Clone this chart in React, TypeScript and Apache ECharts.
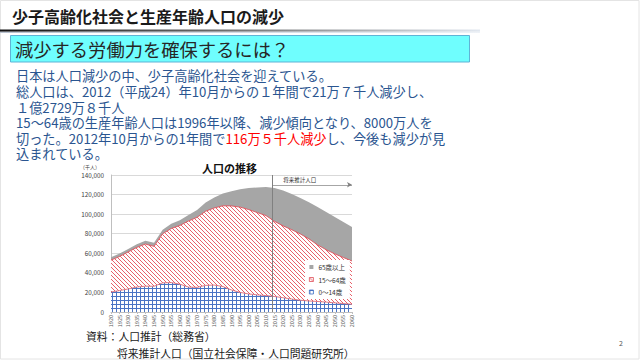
import React, { useEffect, useRef } from 'react';
import * as echarts from 'echarts';

// ---- data (thousand persons) ----
const years = [1920, 1925, 1930, 1935, 1940, 1945, 1950, 1955, 1960, 1965, 1970, 1975, 1980, 1985, 1990, 1995, 2000, 2005, 2010, 2015, 2020, 2025, 2030, 2035, 2040, 2045, 2050, 2055, 2060];
const age0to14 = [20416, 21924, 23579, 25545, 26383, 26300, 29786, 30123, 28434, 25529, 25153, 27221, 27507, 26033, 22486, 20014, 18472, 17521, 16803, 15827, 14568, 13240, 12039, 11287, 10732, 10116, 9387, 8614, 7912];
const age15to64 = [32605, 34792, 37807, 40484, 43000, 40800, 50168, 55167, 60002, 67444, 71566, 75807, 78835, 82506, 85904, 87165, 86220, 84092, 81735, 76818, 73408, 70845, 67730, 63430, 57866, 53531, 50013, 47063, 44183];
const age65plus = [2941, 3021, 3064, 3225, 3454, 3700, 4155, 4786, 5398, 6236, 7393, 8865, 10647, 12468, 14895, 18261, 22005, 25672, 29246, 33952, 36124, 36573, 36849, 37407, 38678, 38564, 37676, 36257, 34642];
const seriesNames = ['0～14歳', '15～64歳', '65歳以上'];
const projectionStartYear = 2013.6;
const projectionArrowValue = 130000;

const bodyLines = [
  '日本は人口減少の中、少子高齢化社会を迎えている。',
  '総人口は、2012（平成24）年10月からの１年間で21万７千人減少し、',
  '１億2729万８千人',
  '15～64歳の生産年齢人口は1996年以降、減少傾向となり、8000万人を',
  '切った。2012年10月からの1年間で{r|116万５千人減少}し、今後も減少が見',
  '込まれている。',
];
const bodyLineY = [75, 91, 107, 122, 138, 153];

const FONT = '"Noto Sans CJK JP", "Noto Sans", sans-serif';

function makeTile(size: number, draw: (ctx: CanvasRenderingContext2D) => void): string {
  const c = document.createElement('canvas');
  c.width = size;
  c.height = size;
  const ctx = c.getContext('2d') as CanvasRenderingContext2D;
  ctx.fillStyle = '#ffffff';
  ctx.fillRect(0, 0, size, size);
  draw(ctx);
  return c.toDataURL();
}

export default function App() {
  const ref = useRef<HTMLDivElement>(null);
  useEffect(() => {
    if (!ref.current) return;
    const chart = echarts.init(ref.current, undefined, { renderer: 'svg' });

    const gridTile = makeTile(4, (ctx) => {
      ctx.fillStyle = '#4a74c4';
      ctx.fillRect(0, 0, 4, 1);
      ctx.fillRect(0, 0, 1, 4);
    });
    const hatchTile = makeTile(4, (ctx) => {
      ctx.fillStyle = '#e8606a';
      for (let i = 0; i < 4; i++) ctx.fillRect(i, i, 1, 1);
    });
    const bluePattern: any = { image: gridTile, repeat: 'repeat', imageWidth: 4, imageHeight: 4 };
    const redPattern: any = { image: hatchTile, repeat: 'repeat', imageWidth: 4, imageHeight: 4 };

    const graphic: any[] = [
      { type: 'rect', shape: { x: 0.5, y: 0.5, width: 638.5, height: 358.5 }, style: { fill: 'none', stroke: '#e4e4e4', lineWidth: 1 }, silent: true },
      { type: 'text', style: { text: '少子高齢化社会と生産年齢人口の減少', x: 12, y: 16, fontSize: 16, fontWeight: 'bold', fontFamily: FONT, fill: '#1a1a1a', verticalAlign: 'middle' } },
      {
        type: 'rect', shape: { x: 0, y: 29.5, width: 480, height: 2.2 },
        style: { fill: new echarts.graphic.LinearGradient(0, 0, 1, 0, [{ offset: 0, color: '#111111' }, { offset: 0.45, color: '#6a6a6a' }, { offset: 1, color: '#e2e8f0' }]) },
      },
      {
        type: 'rect', shape: { x: 0, y: 31.7, width: 480, height: 1.2 },
        style: { fill: new echarts.graphic.LinearGradient(0, 0, 1, 0, [{ offset: 0, color: '#b8c2d0' }, { offset: 1, color: '#eef2f7' }]) },
      },
      { type: 'rect', shape: { x: 10.5, y: 35.5, width: 459, height: 26.5 }, style: { fill: '#6ffefe', stroke: '#5fb3d6', lineWidth: 1 } },
      { type: 'text', style: { text: '減少する労働力を確保するには？', x: 15, y: 49, fontSize: 18.3, fontFamily: FONT, fill: '#262626', verticalAlign: 'middle' } },
      ...bodyLines.map((t, i) => ({
        type: 'text',
        style: {
          text: t, x: 16, y: bodyLineY[i], fontSize: 13.2, lineHeight: 15, fontFamily: FONT, fill: '#2a5590', verticalAlign: 'middle',
          rich: { r: { fill: '#ff0000', fontSize: 13.2, lineHeight: 15, fontFamily: FONT } },
        },
      })),
      { type: 'text', style: { text: '（千人）', x: 90, y: 166, fontSize: 5, fontFamily: FONT, fill: '#404040', align: 'center', verticalAlign: 'middle' } },
      { type: 'text', style: { text: '資料：人口推計（総務省）', x: 86, y: 336, fontSize: 10.8, lineHeight: 13, fontFamily: FONT, fill: '#1a1a1a', verticalAlign: 'middle' } },
      { type: 'text', style: { text: '将来推計人口（国立社会保障・人口問題研究所）', x: 117, y: 353, fontSize: 10.8, lineHeight: 13, fontFamily: FONT, fill: '#1a1a1a', verticalAlign: 'middle' } },
      { type: 'text', style: { text: '2', x: 621, y: 343, fontSize: 7, fontFamily: FONT, fill: '#555555', align: 'center', verticalAlign: 'middle' } },
    ];

    const option: any = {
      animation: false,
      backgroundColor: '#ffffff',
      textStyle: { fontFamily: FONT },
      title: {
        text: '人口の推移', left: 197, top: 157,
        textStyle: { fontSize: 11, fontWeight: 'bold', color: '#111111', fontFamily: FONT },
      },
      grid: { left: 111, right: 288, top: 175, bottom: 49 },
      legend: {
        orient: 'vertical', left: 305, top: 260, icon: 'rect', itemWidth: 4, itemHeight: 4, itemGap: 4.5,
        padding: [3, 4, 3, 4], backgroundColor: '#ffffff',
        textStyle: { fontSize: 6.5, color: '#333333', lineHeight: 8, fontFamily: FONT },
        data: [
          { name: '65歳以上', itemStyle: { color: '#a6a6a6' } },
          { name: '15～64歳', itemStyle: { color: redPattern, borderColor: '#e0505a', borderWidth: 0.8 } },
          { name: '0～14歳', itemStyle: { color: bluePattern, borderColor: '#4472c4', borderWidth: 0.8 } },
        ],
      },
      xAxis: [
        {
          type: 'category', data: years.map(String), boundaryGap: false,
          axisLine: { show: true, lineStyle: { color: '#bfbfbf', width: 1 } },
          axisTick: { show: true, length: 2, interval: 0, lineStyle: { color: '#bfbfbf' } },
          splitLine: { show: false },
          axisLabel: { interval: 0, rotate: 90, fontSize: 5.5, color: '#595959', margin: 3 },
        },
        { type: 'value', min: 1920, max: 2060, show: false },
      ],
      yAxis: {
        type: 'value', min: 0, max: 140000, interval: 20000,
        axisLine: { show: true, lineStyle: { color: '#bfbfbf', width: 1 } },
        axisTick: { show: false },
        splitLine: { show: true, lineStyle: { color: '#d9d9d9', width: 1 } },
        axisLabel: { fontSize: 6.3, color: '#404040', margin: 7, formatter: (v: number) => v.toLocaleString('en-US') },
      },
      series: [
        {
          name: seriesNames[0], type: 'line', stack: 'total', data: age0to14, symbol: 'none', showSymbol: false,
          lineStyle: { color: '#d8606a', width: 0.8 }, itemStyle: { color: '#4472c4' },
          areaStyle: { color: bluePattern, opacity: 1 }, emphasis: { disabled: true }, z: 2,
        },
        {
          name: seriesNames[1], type: 'line', stack: 'total', data: age15to64, symbol: 'none', showSymbol: false,
          lineStyle: { color: '#e0505a', width: 0.9 }, itemStyle: { color: '#e0505a' },
          areaStyle: { color: redPattern, opacity: 1 }, emphasis: { disabled: true }, z: 2,
        },
        {
          name: seriesNames[2], type: 'line', stack: 'total', data: age65plus, symbol: 'none', showSymbol: false,
          lineStyle: { width: 0, color: '#a6a6a6' }, itemStyle: { color: '#a6a6a6' },
          areaStyle: { color: '#a6a6a6', opacity: 1 }, emphasis: { disabled: true }, z: 2,
        },
        {
          name: 'projection', type: 'line', xAxisIndex: 1, data: [], silent: true, z: 5,
          markLine: {
            silent: true, animation: false, symbol: ['none', 'none'],
            label: { show: false },
            lineStyle: { color: '#808080', width: 1, type: 'solid' },
            data: [
              { xAxis: projectionStartYear },
              [
                {
                  coord: [projectionStartYear, projectionArrowValue], symbol: 'none',
                  lineStyle: { color: '#7f7f7f', width: 0.7, type: 'solid' },
                  label: { show: true, formatter: '将来推計人口', position: 'insideStartTop', distance: [11, 2], fontSize: 5.5, color: '#333333', fontFamily: FONT },
                },
                { coord: [2060, projectionArrowValue], symbol: 'arrow', symbolSize: [4, 5] },
              ],
            ],
          },
        },
      ],
      graphic,
    };
    chart.setOption(option);
    return () => chart.dispose();
  }, []);

  return <div ref={ref} style={{ position: 'fixed', left: 0, top: 0, width: 640, height: 361, background: '#fff' }} />;
}
